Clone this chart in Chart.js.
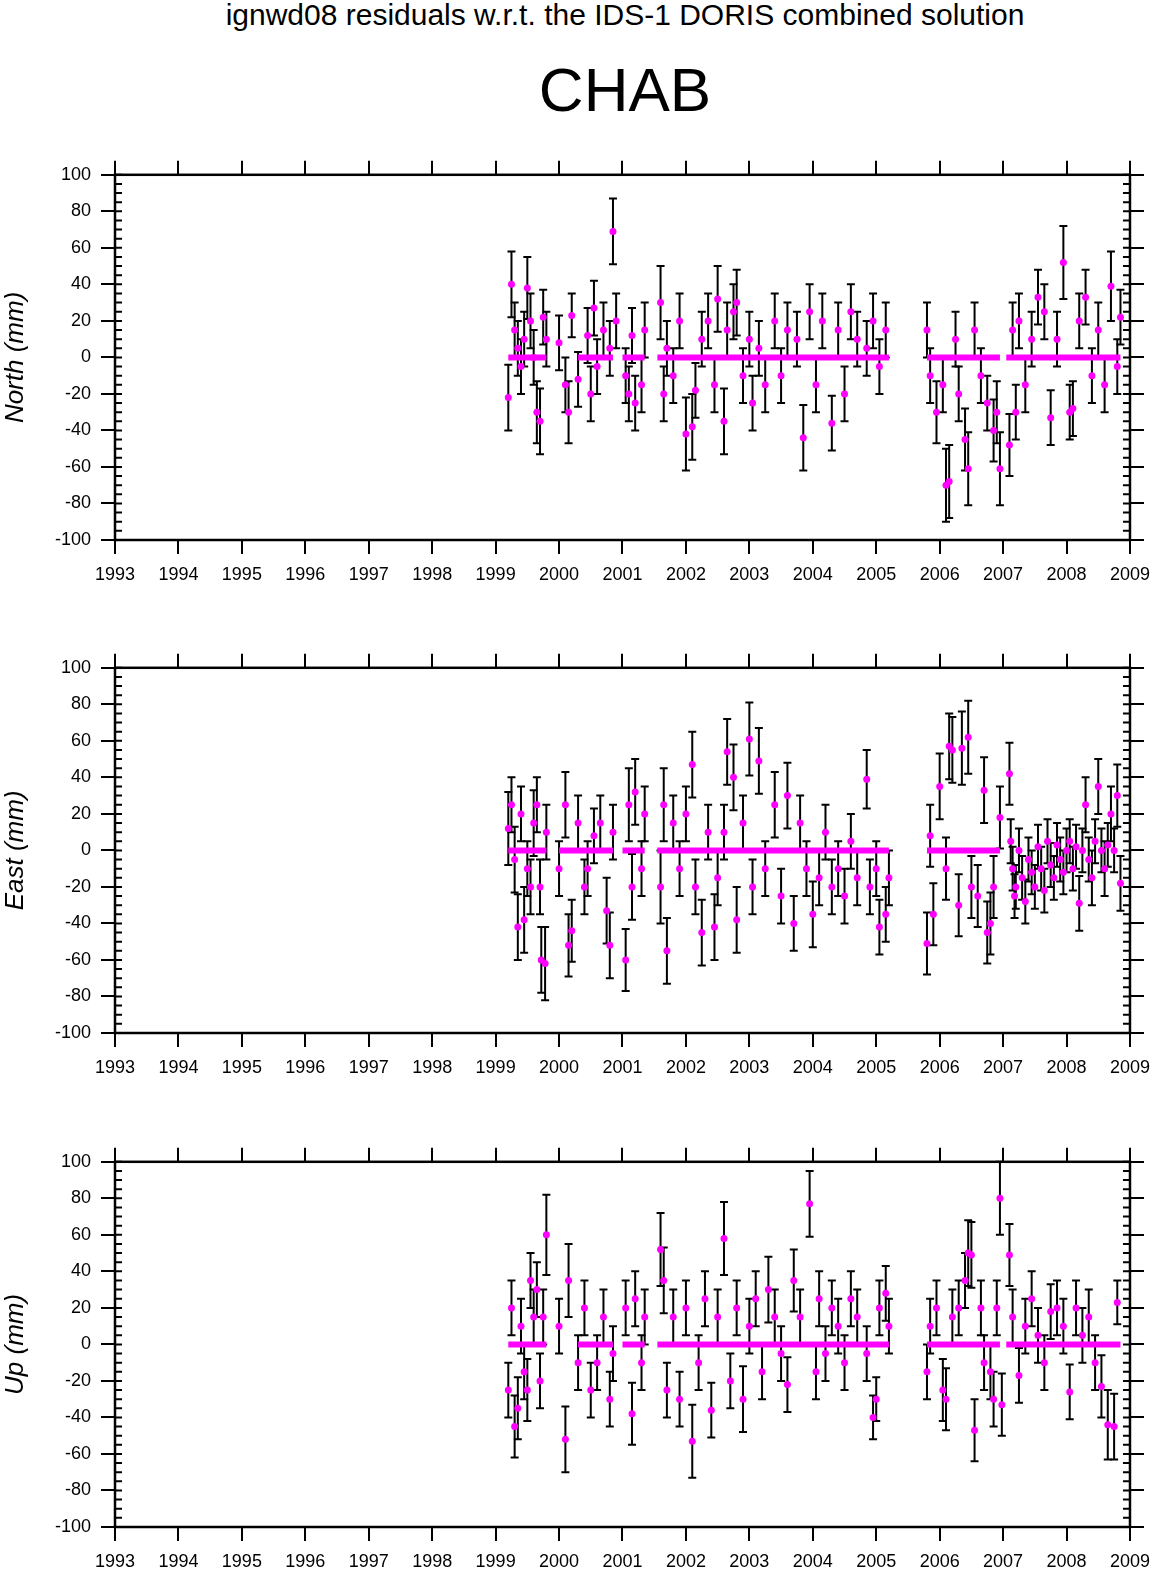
<!DOCTYPE html>
<html><head><meta charset="utf-8">
<script src="https://cdn.jsdelivr.net/npm/chart.js@4/dist/chart.umd.min.js"></script>
<style>
body{margin:0;background:#fff;width:1160px;height:1575px;position:relative;overflow:hidden;font-family:"Liberation Sans",Arial,sans-serif}
.t1{position:absolute;left:0;width:1250px;text-align:center;top:-2px;font-size:30px}
.t2{position:absolute;left:0;width:1250px;text-align:center;top:54px;font-size:62px}
canvas{position:absolute;left:0}
</style></head><body>
<div class="t1">ignwd08 residuals w.r.t. the IDS-1 DORIS combined solution</div>
<div class="t2">CHAB</div>
<canvas id="c0" width="1160" height="436" style="top:154px"></canvas>
<canvas id="c1" width="1160" height="436" style="top:647px"></canvas>
<canvas id="c2" width="1160" height="436" style="top:1141px"></canvas>
<script>
const yearTicks=[1993,1994,1995,1996,1997,1998,1999,2000,2001,2002,2003,2004,2005,2006,2007,2008,2009];
const valueTicks=[-100,-80,-60,-40,-20,0,20,40,60,80,100];
const panelTitles=["North (mm)","East (mm)","Up (mm)"];
// [year, residual mm, sigma mm]
const northPoints=[[1999.2,-22,18],[1999.25,40,18],[1999.3,15,15],[1999.35,5,15],[1999.4,-5,15],[1999.45,10,15],[1999.5,38,17],[1999.55,20,15],[1999.6,0,15],[1999.65,-30,17],[1999.7,-35,18],[1999.75,22,15],[1999.8,10,15],
[2000.0,8,15],[2000.1,-15,15],[2000.15,-30,17],[2000.2,23,12],[2000.3,-12,15],[2000.45,12,15],[2000.5,-20,15],[2000.55,27,15],[2000.6,-5,15],[2000.7,15,15],[2000.8,5,15],[2000.85,69,18],[2000.9,20,15],
[2001.05,-10,15],[2001.1,-20,15],[2001.15,12,15],[2001.2,-25,15],[2001.3,-15,15],[2001.35,15,15],
[2001.6,30,20],[2001.65,-20,15],[2001.7,5,15],[2001.8,-10,15],[2001.9,20,15],[2002.0,-42,20],[2002.1,-38,18],[2002.15,-18,15],[2002.25,10,15],[2002.35,20,15],[2002.45,-15,15],[2002.5,32,18],[2002.6,-35,18],[2002.65,15,15],[2002.75,25,15],[2002.8,30,18],[2002.9,-10,15],[2003.0,10,15],[2003.05,-25,15],[2003.15,5,15],[2003.25,-15,15],[2003.4,20,15],[2003.5,-10,15],[2003.6,15,15],[2003.75,10,15],[2003.85,-44,18],[2003.95,25,15],[2004.05,-15,15],[2004.15,20,15],[2004.3,-36,15],[2004.4,15,15],[2004.5,-20,15],[2004.6,25,15],[2004.7,10,15],[2004.85,5,15],[2004.95,20,15],[2005.05,-5,15],[2005.15,15,15],
[2005.8,15,15],[2005.85,-10,15],[2005.95,-30,17],[2006.05,-15,15],[2006.1,-70,20],[2006.15,-68,20],[2006.25,10,15],[2006.3,-20,15],[2006.4,-45,17],[2006.45,-61,20],[2006.55,15,15],[2006.65,-10,15],[2006.75,-25,15],[2006.85,-40,17],[2006.9,-30,17],[2006.95,-61,20],
[2007.1,-48,17],[2007.15,15,15],[2007.2,-30,15],[2007.25,20,15],[2007.35,-15,15],[2007.45,10,15],[2007.55,33,15],[2007.65,25,15],[2007.75,-33,15],[2007.85,10,15],[2007.95,52,20],[2008.05,-30,15],[2008.1,-28,15],[2008.2,20,15],[2008.3,33,15],[2008.4,-10,15],[2008.5,15,15],[2008.6,-15,15],[2008.7,39,19],[2008.8,-5,15],[2008.85,22,15]];
const eastPoints=[[1999.2,12,20],[1999.25,25,15],[1999.3,-5,18],[1999.35,-42,18],[1999.4,20,15],[1999.45,-38,18],[1999.5,-10,15],[1999.55,-20,15],[1999.6,15,18],[1999.65,25,15],[1999.7,-20,15],[1999.72,-60,18],[1999.78,-62,20],[1999.8,10,15],
[2000.0,-10,15],[2000.1,25,18],[2000.15,-52,17],[2000.2,-44,17],[2000.3,15,15],[2000.4,-20,15],[2000.45,-10,15],[2000.55,8,15],[2000.65,15,15],[2000.75,-33,18],[2000.8,-52,18],[2000.85,10,15],
[2001.05,-60,17],[2001.1,25,20],[2001.15,-20,18],[2001.2,32,18],[2001.3,-10,15],[2001.35,20,15],
[2001.6,-20,20],[2001.65,25,20],[2001.7,-55,18],[2001.8,15,15],[2001.9,-10,15],[2002.0,20,15],[2002.1,47,18],[2002.15,-20,15],[2002.25,-45,18],[2002.35,10,15],[2002.45,-42,18],[2002.5,-15,15],[2002.6,10,15],[2002.65,54,18],[2002.75,40,18],[2002.8,-38,18],[2002.9,15,15],[2003.0,61,20],[2003.05,-20,15],[2003.15,49,18],[2003.25,-10,15],[2003.4,25,18],[2003.5,-25,15],[2003.6,30,18],[2003.7,-40,15],[2003.8,15,15],[2003.9,-10,15],[2004.0,-35,18],[2004.1,-15,15],[2004.2,10,15],[2004.3,-20,15],[2004.4,-10,15],[2004.5,-25,15],[2004.6,5,15],[2004.7,-15,15],[2004.85,39,16],[2004.9,-20,15],[2005.0,-10,15],[2005.05,-42,15],[2005.15,-35,15],[2005.2,-15,15],
[2005.8,-51,17],[2005.85,8,17],[2005.9,-35,17],[2006.0,35,18],[2006.1,-10,17],[2006.15,57,18],[2006.2,55,18],[2006.3,-30,17],[2006.35,56,20],[2006.45,62,20],[2006.5,-20,17],[2006.6,-25,17],[2006.7,33,18],[2006.75,-45,17],[2006.8,-40,17],[2006.85,-20,17],[2006.95,18,17],
[2007.1,42,17],[2007.12,5,12],[2007.15,-10,12],[2007.18,-25,12],[2007.2,-20,12],[2007.25,0,12],[2007.3,-15,12],[2007.35,-28,12],[2007.4,-5,12],[2007.45,-12,12],[2007.5,-20,12],[2007.55,2,12],[2007.6,-10,12],[2007.65,-22,12],[2007.7,5,12],[2007.75,-8,12],[2007.8,-15,12],[2007.85,3,12],[2007.9,-5,12],[2007.95,-12,12],[2008.0,0,12],[2008.05,5,12],[2008.1,-10,12],[2008.15,2,12],[2008.2,-29,15],[2008.25,0,12],[2008.3,25,15],[2008.35,-5,12],[2008.4,-15,15],[2008.45,5,12],[2008.5,35,15],[2008.55,0,12],[2008.6,-10,15],[2008.65,3,12],[2008.7,20,15],[2008.75,0,12],[2008.8,30,17],[2008.85,-18,15]];
const upPoints=[[1999.2,-25,15],[1999.25,20,15],[1999.3,-45,17],[1999.35,-35,17],[1999.4,10,15],[1999.45,-15,15],[1999.5,-25,17],[1999.55,35,15],[1999.6,15,15],[1999.65,30,15],[1999.7,-20,15],[1999.75,15,15],[1999.8,60,22],
[2000.0,10,15],[2000.1,-52,18],[2000.15,35,20],[2000.3,-10,15],[2000.4,20,15],[2000.5,-25,15],[2000.6,-10,15],[2000.7,15,15],[2000.8,-30,15],[2000.85,-5,15],
[2001.05,20,15],[2001.15,-38,17],[2001.2,25,15],[2001.3,-10,15],[2001.35,15,15],
[2001.6,52,20],[2001.65,35,18],[2001.7,-25,15],[2001.8,15,15],[2001.9,-30,15],[2002.0,20,15],[2002.1,-53,20],[2002.2,-10,15],[2002.3,25,15],[2002.4,-36,15],[2002.5,15,15],[2002.6,58,20],[2002.7,-20,15],[2002.8,20,15],[2002.9,-30,18],[2003.0,10,15],[2003.1,25,15],[2003.2,-15,15],[2003.3,30,18],[2003.4,15,15],[2003.5,-5,15],[2003.6,-22,15],[2003.7,35,17],[2003.8,15,15],[2003.95,77,18],[2004.05,-15,15],[2004.1,25,15],[2004.2,-5,15],[2004.3,20,15],[2004.4,10,15],[2004.5,-10,15],[2004.6,25,15],[2004.7,15,15],[2004.85,-5,15],[2004.95,-40,12],[2005.0,-30,12],[2005.05,20,15],[2005.15,28,15],[2005.2,10,15],
[2005.8,-15,15],[2005.85,10,15],[2005.95,20,15],[2006.05,-25,17],[2006.1,-30,17],[2006.2,15,15],[2006.3,20,15],[2006.4,35,15],[2006.45,50,18],[2006.5,49,18],[2006.55,-47,17],[2006.65,20,15],[2006.7,-10,15],[2006.8,-15,15],[2006.85,-30,15],[2006.9,20,15],[2006.95,80,20],[2006.98,-33,17],
[2007.1,49,17],[2007.15,15,15],[2007.25,-17,15],[2007.35,10,15],[2007.45,25,15],[2007.55,5,15],[2007.65,-10,15],[2007.75,18,15],[2007.85,20,15],[2007.95,10,15],[2008.05,-26,15],[2008.15,20,15],[2008.25,5,15],[2008.35,15,15],[2008.45,-10,15],[2008.55,-23,17],[2008.65,-44,19],[2008.75,-45,18],[2008.8,23,12]];
// spans where many residuals sit at ~0 (dense run of points)
const northZeroSpans=[[1999.2,1999.8],[2000.3,2000.85],[2001.0,2001.35],[2001.55,2005.2],[2005.8,2006.95],[2007.05,2008.85]];
const eastZeroSpans=[[1999.2,1999.8],[2000.0,2000.85],[2001.0,2001.35],[2001.55,2005.2],[2005.8,2006.95]];
const upZeroSpans=[[1999.2,1999.8],[2000.3,2000.85],[2001.0,2001.35],[2001.55,2005.2],[2005.8,2006.95],[2007.05,2008.85]];

const allPoints=[northPoints,eastPoints,upPoints];
const allSpans=[northZeroSpans,eastZeroSpans,upZeroSpans];
const MAG='#ff00ff';

const deco={id:'deco',
 beforeDatasetsDraw(c){
  const ctx=c.ctx,x=c.scales.x,y=c.scales.y,pts=c.data.datasets[0].data;
  ctx.save();ctx.strokeStyle='#000';ctx.lineWidth=2;
  pts.forEach(p=>{const px=x.getPixelForValue(p.x),t=y.getPixelForValue(p.y+p.e),b=y.getPixelForValue(p.y-p.e);
   ctx.beginPath();ctx.moveTo(px,t);ctx.lineTo(px,b);ctx.moveTo(px-4,t);ctx.lineTo(px+4,t);ctx.moveTo(px-4,b);ctx.lineTo(px+4,b);ctx.stroke();});
  ctx.restore();},
 afterDraw(c){
  const ctx=c.ctx,a=c.chartArea,y=c.scales.y;
  ctx.save();ctx.strokeStyle='#000';ctx.lineWidth=2.5;ctx.strokeRect(a.left,a.top,a.right-a.left,a.bottom-a.top);
  ctx.lineWidth=2;
  for(let v=-100;v<=100;v+=5){const py=y.getPixelForValue(v);
   ctx.beginPath();ctx.moveTo(a.left,py);ctx.lineTo(a.left+7,py);ctx.moveTo(a.right,py);ctx.lineTo(a.right-7,py);ctx.stroke();}
  ctx.restore();}
};

allPoints.forEach((pts,i)=>{
 const dsets=[{type:'scatter',data:pts.map(p=>({x:p[0],y:p[1],e:p[2]})),pointRadius:3.5,pointBackgroundColor:MAG,pointBorderWidth:0,showLine:false,order:1}];
 allSpans[i].forEach(s=>dsets.push({type:'line',data:[{x:s[0],y:0},{x:s[1],y:0}],borderColor:MAG,borderWidth:6,pointRadius:0,order:0}));
 const tickOpts={color:'#000',font:{family:'Liberation Sans',size:18}};
 new Chart(document.getElementById('c'+i),{
  data:{datasets:dsets},
  plugins:[deco],
  options:{responsive:false,animation:false,events:[],
   plugins:{legend:{display:false},tooltip:{enabled:false}},
   layout:{padding:0},
   scales:{
    x:{type:'linear',position:'bottom',min:1993,max:2009,afterBuildTicks:s=>{s.ticks=yearTicks.map(v=>({value:v}));},
      ticks:Object.assign({padding:10,maxRotation:0,callback:v=>String(v)},tickOpts),
      grid:{drawOnChartArea:false,color:'#000',lineWidth:2,tickLength:14},border:{display:false},afterFit:s=>{s.height=50;}},
    x2:{type:'linear',position:'top',min:1993,max:2009,afterBuildTicks:s=>{s.ticks=yearTicks.map(v=>({value:v}));},
      ticks:{display:false},grid:{drawOnChartArea:false,color:'#000',lineWidth:2,tickLength:14},border:{display:false},afterFit:s=>{s.height=20;}},
    y:{min:-100,max:100,afterBuildTicks:s=>{s.ticks=valueTicks.map(v=>({value:v}));},
      ticks:Object.assign({padding:10},tickOpts),
      title:{display:true,text:panelTitles[i],color:'#000',font:{family:'Liberation Sans',size:26,style:'italic'},padding:0},
      grid:{drawOnChartArea:false,color:'#000',lineWidth:2,tickLength:14},border:{display:false},afterFit:s=>{s.width=115;}},
    y2:{position:'right',min:-100,max:100,afterBuildTicks:s=>{s.ticks=valueTicks.map(v=>({value:v}));},
      ticks:{display:false},grid:{drawOnChartArea:false,color:'#000',lineWidth:2,tickLength:14},border:{display:false},afterFit:s=>{s.width=19;}}
   }}
 });
});
</script></body></html>
